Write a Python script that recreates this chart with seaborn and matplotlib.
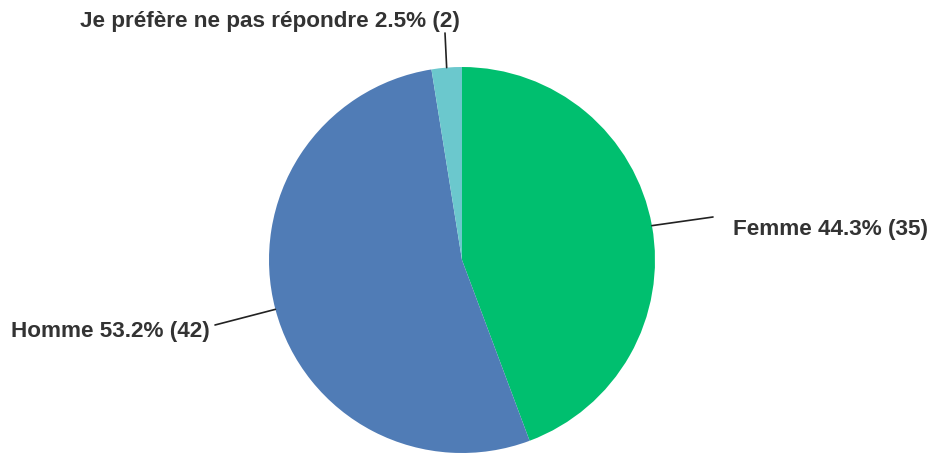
import numpy as np
import matplotlib
matplotlib.use("Agg")
import matplotlib.pyplot as plt
import seaborn as sns

categories = ["Femme", "Homme", "Je préfère ne pas répondre"]
percents = [44.3, 53.2, 2.5]
counts = [35, 42, 2]
colors = ["#00BF6F", "#507CB6", "#6BC8CD"]

sns.set_theme(style="white")
plt.rcParams["font.family"] = ["Liberation Sans", "DejaVu Sans"]

W, H = 932, 453
fig = plt.figure(figsize=(W / 100, H / 100), dpi=100)
ax = fig.add_axes([0, 0, 1, 1])

cx, cy, r = 462, H - 260, 193
wedges, _ = ax.pie(counts, colors=colors, startangle=90, counterclock=False,
                   center=(cx, cy), radius=r, frame=True,
                   wedgeprops=dict(linewidth=0))
ax.set_xlim(0, W)
ax.set_ylim(0, H)
ax.set_aspect("equal")
ax.axis("off")

# label positions (pixels from top-left): text anchor, line end near text
label_pos = [
    dict(text=(733, 229), ha="left", line_end=(713, 217)),
    dict(text=(210, 332), ha="right", line_end=(215, 325)),
    dict(text=(460, 21), ha="right", line_end=(445, 33)),
]

for w, cat, p, n, lp in zip(wedges, categories, percents, counts, label_pos):
    mid = np.deg2rad((w.theta1 + w.theta2) / 2)
    rim = (cx + r * np.cos(mid), cy + r * np.sin(mid))
    tx, ty = lp["text"]
    lx, ly = lp["line_end"]
    ax.plot([rim[0], lx], [rim[1], H - ly], color="#222222", lw=1.2)
    ax.text(tx, H - ty, f"{cat} {p}% ({n})", ha=lp["ha"], va="center",
            fontsize=16.2, fontweight="bold", color="#333333")

fig.savefig("out.png", dpi=100)
